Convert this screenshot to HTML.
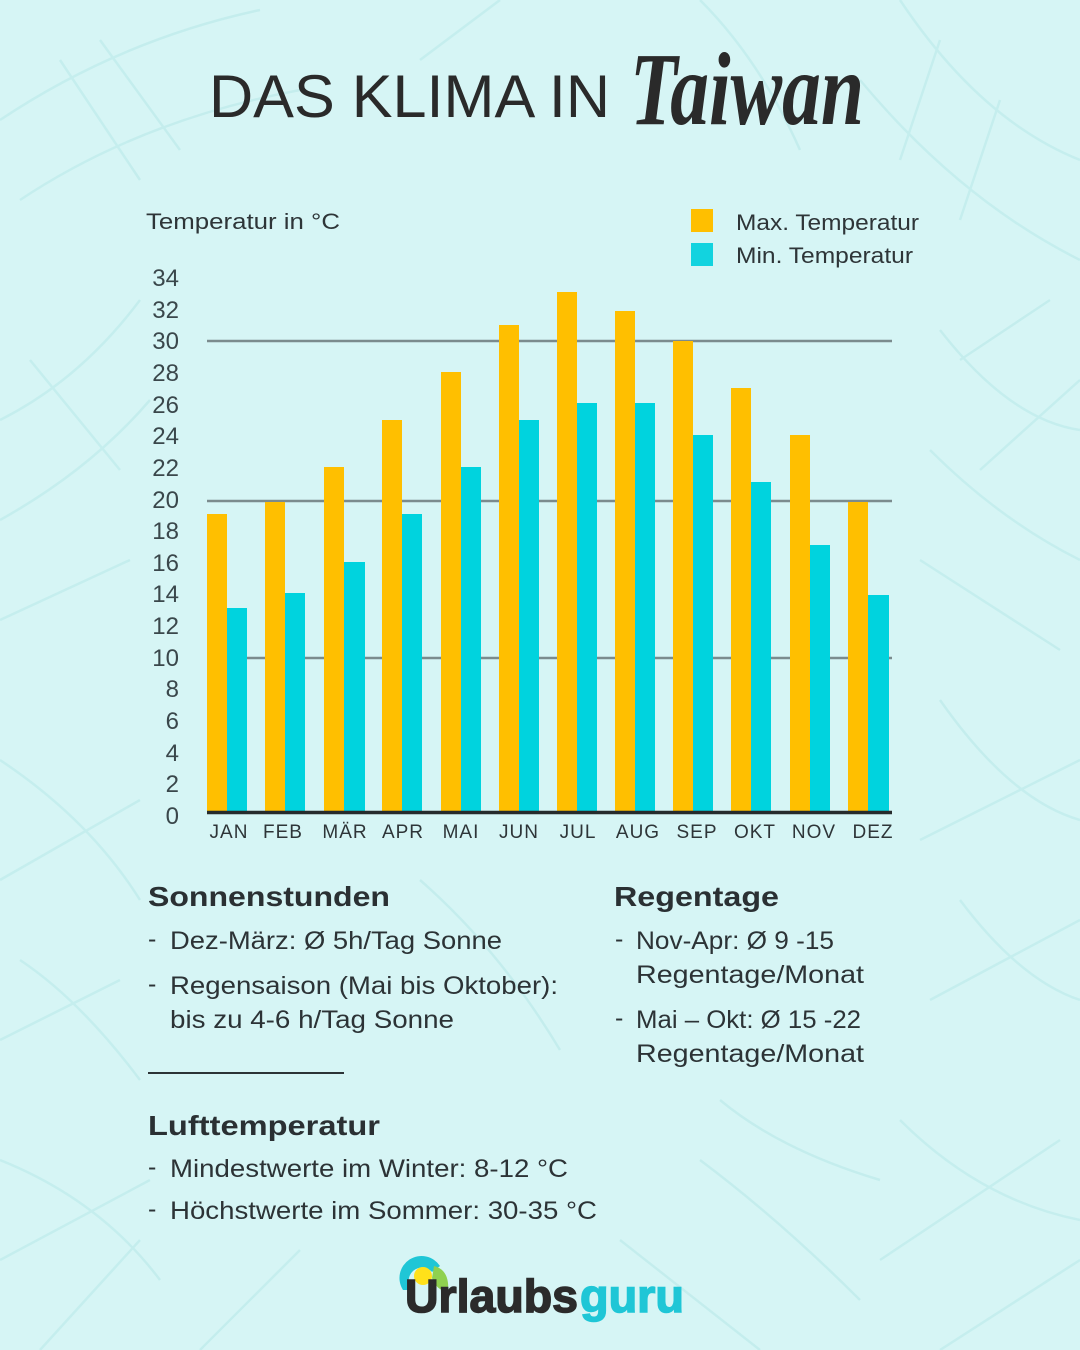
<!DOCTYPE html>
<html>
<head>
<meta charset="utf-8">
<style>
html,body{margin:0;padding:0;background:#d6f5f5;}
svg{display:block;}
text{font-family:"Liberation Sans",sans-serif;}
</style>
</head>
<body>
<svg width="1080" height="1350" viewBox="0 0 1080 1350" xmlns="http://www.w3.org/2000/svg">
<rect width="1080" height="1350" fill="#d6f5f5"/>
<!-- faint leaf pattern -->
<g fill="none" stroke="#c3eded" stroke-width="2.5" opacity="0.9">
  <path d="M0 120 Q120 40 260 10 M20 200 Q140 120 300 90 M60 60 L140 180 M100 40 L180 150"/>
  <path d="M900 0 Q980 120 1080 160 M860 80 Q960 200 1080 260 M940 40 L900 160 M1000 100 L960 220"/>
  <path d="M0 420 Q80 380 140 300 M0 520 Q90 470 150 400 M30 360 L120 470 M0 620 L130 560"/>
  <path d="M940 330 Q1010 420 1080 430 M930 450 Q1000 520 1080 560 M960 360 L1050 300 M980 470 L1080 380 M920 560 L1060 650"/>
  <path d="M0 760 Q90 820 140 900 M0 880 L140 800 M20 960 Q80 1000 140 1080 M0 1040 L120 980"/>
  <path d="M940 700 Q1010 800 1080 820 M920 840 L1080 760 M960 900 Q1020 980 1080 1000 M930 1000 L1080 920"/>
  <path d="M0 1160 Q100 1200 160 1280 M0 1260 L150 1180 M40 1350 L140 1240"/>
  <path d="M900 1120 Q980 1200 1080 1220 M880 1260 L1060 1140 M940 1350 L1080 1260 M700 1160 Q780 1220 860 1300"/>
  <path d="M300 1250 Q250 1300 200 1350 M620 1240 L760 1350 M500 0 L420 60 M700 0 Q760 60 800 150"/>
  <path d="M420 880 Q500 950 560 1050 M720 1100 Q780 1150 880 1180"/>
</g>

<!-- Title -->
<text x="209" y="117" font-size="60" fill="#2a2a2a" textLength="401" lengthAdjust="spacingAndGlyphs">DAS KLIMA IN</text>
<text x="630" y="124" font-size="104" font-style="italic" font-weight="bold" fill="#2a2a2a" style="font-family:'Liberation Serif',serif" textLength="234" lengthAdjust="spacingAndGlyphs">Taiwan</text>

<!-- Axis label and legend -->
<text x="146" y="229" font-size="22" fill="#2e3538" textLength="194" lengthAdjust="spacingAndGlyphs">Temperatur in °C</text>
<rect x="691" y="209" width="22" height="23" fill="#ffbf00"/>
<rect x="691" y="243" width="22" height="23" fill="#12d3df"/>
<text x="736" y="230" font-size="22" fill="#2e3538" textLength="183" lengthAdjust="spacingAndGlyphs">Max. Temperatur</text>
<text x="736" y="263" font-size="22" fill="#2e3538" textLength="177" lengthAdjust="spacingAndGlyphs">Min. Temperatur</text>

<!-- Y tick labels -->
<g font-size="24" fill="#3a474b" text-anchor="end">
  <text x="179" y="286">34</text>
  <text x="179" y="318">32</text>
  <text x="179" y="349">30</text>
  <text x="179" y="381">28</text>
  <text x="179" y="413">26</text>
  <text x="179" y="444">24</text>
  <text x="179" y="476">22</text>
  <text x="179" y="508">20</text>
  <text x="179" y="539">18</text>
  <text x="179" y="571">16</text>
  <text x="179" y="602">14</text>
  <text x="179" y="634">12</text>
  <text x="179" y="666">10</text>
  <text x="179" y="697">8</text>
  <text x="179" y="729">6</text>
  <text x="179" y="761">4</text>
  <text x="179" y="792">2</text>
  <text x="179" y="824">0</text>
</g>

<!-- Gridlines -->
<g stroke="#7b8b8d" stroke-width="2.5">
  <line x1="207" y1="341" x2="892" y2="341"/>
  <line x1="207" y1="501" x2="892" y2="501"/>
  <line x1="207" y1="658" x2="892" y2="658"/>
</g>

<!-- Bars -->
<g fill="#ffbf00">
  <rect x="207" y="514" width="20" height="298"/>
  <rect x="265" y="502" width="20" height="310"/>
  <rect x="324" y="467" width="20" height="345"/>
  <rect x="382" y="420" width="20" height="392"/>
  <rect x="441" y="372" width="20" height="440"/>
  <rect x="499" y="325" width="20" height="487"/>
  <rect x="557" y="292" width="20" height="520"/>
  <rect x="615" y="311" width="20" height="501"/>
  <rect x="673" y="341" width="20" height="471"/>
  <rect x="731" y="388" width="20" height="424"/>
  <rect x="790" y="435" width="20" height="377"/>
  <rect x="848" y="502" width="20" height="310"/>
</g>
<g fill="#00d3de">
  <rect x="227" y="608" width="20" height="204"/>
  <rect x="285" y="593" width="20" height="219"/>
  <rect x="344" y="562" width="21" height="250"/>
  <rect x="402" y="514" width="20" height="298"/>
  <rect x="461" y="467" width="20" height="345"/>
  <rect x="519" y="420" width="20" height="392"/>
  <rect x="577" y="403" width="20" height="409"/>
  <rect x="635" y="403" width="20" height="409"/>
  <rect x="693" y="435" width="20" height="377"/>
  <rect x="751" y="482" width="20" height="330"/>
  <rect x="810" y="545" width="20" height="267"/>
  <rect x="868" y="595" width="21" height="217"/>
</g>
<line x1="207" y1="812.5" x2="892" y2="812.5" stroke="#262b2c" stroke-width="3.5"/>

<!-- Month labels -->
<g font-size="19" fill="#2e3538" text-anchor="middle" letter-spacing="1">
  <text x="229" y="838">JAN</text>
  <text x="283" y="838">FEB</text>
  <text x="345" y="838">MÄR</text>
  <text x="403" y="838">APR</text>
  <text x="461" y="838">MAI</text>
  <text x="519" y="838">JUN</text>
  <text x="578" y="838">JUL</text>
  <text x="638" y="838">AUG</text>
  <text x="697" y="838">SEP</text>
  <text x="755" y="838">OKT</text>
  <text x="814" y="838">NOV</text>
  <text x="873" y="838">DEZ</text>
</g>

<!-- Text sections -->
<g fill="#2a3033">
  <text x="148" y="906" font-size="28" font-weight="bold" textLength="242" lengthAdjust="spacingAndGlyphs">Sonnenstunden</text>
  <text x="614" y="906" font-size="28" font-weight="bold" textLength="165" lengthAdjust="spacingAndGlyphs">Regentage</text>
  <text x="148" y="1135" font-size="28" font-weight="bold" textLength="232" lengthAdjust="spacingAndGlyphs">Lufttemperatur</text>
</g>
<g fill="#2c3336" font-size="25">
  <text x="148" y="947">-</text>
  <text x="170" y="949" textLength="332" lengthAdjust="spacingAndGlyphs">Dez-März: Ø 5h/Tag Sonne</text>
  <text x="148" y="992">-</text>
  <text x="170" y="994" textLength="388" lengthAdjust="spacingAndGlyphs">Regensaison (Mai bis Oktober):</text>
  <text x="170" y="1028" textLength="284" lengthAdjust="spacingAndGlyphs">bis zu 4-6 h/Tag Sonne</text>

  <text x="148" y="1175">-</text>
  <text x="170" y="1177" textLength="398" lengthAdjust="spacingAndGlyphs">Mindestwerte im Winter: 8-12 °C</text>
  <text x="148" y="1217">-</text>
  <text x="170" y="1219" textLength="427" lengthAdjust="spacingAndGlyphs">Höchstwerte im Sommer: 30-35 °C</text>

  <text x="615" y="947">-</text>
  <text x="636" y="949" textLength="198" lengthAdjust="spacingAndGlyphs">Nov-Apr: Ø 9 -15</text>
  <text x="636" y="983" textLength="228" lengthAdjust="spacingAndGlyphs">Regentage/Monat</text>
  <text x="615" y="1026">-</text>
  <text x="636" y="1028" textLength="225" lengthAdjust="spacingAndGlyphs">Mai – Okt: Ø 15 -22</text>
  <text x="636" y="1062" textLength="228" lengthAdjust="spacingAndGlyphs">Regentage/Monat</text>
</g>
<line x1="148" y1="1073" x2="344" y2="1073" stroke="#2c3336" stroke-width="2"/>

<!-- Logo -->
<g>
  <path d="M403 1290 A22 22 0 0 1 440 1266 L432 1272 A12 12 0 0 0 412 1290 Z" fill="#1fc6d6"/>
  <path d="M434 1266 Q450 1270 448 1292 Q436 1290 432 1278 Z" fill="#8fd14f"/>
  <circle cx="423" cy="1276" r="9" fill="#ffe11a"/>
  <text x="405" y="1312" font-size="46" font-weight="bold" fill="#2b2b2b" stroke="#2b2b2b" stroke-width="1.5" textLength="173" lengthAdjust="spacingAndGlyphs">Urlaubs</text>
  <text x="580" y="1312" font-size="46" font-weight="bold" fill="#1fc6d6" stroke="#1fc6d6" stroke-width="1.5" textLength="104" lengthAdjust="spacingAndGlyphs">guru</text>
</g>
</svg>
</body>
</html>
